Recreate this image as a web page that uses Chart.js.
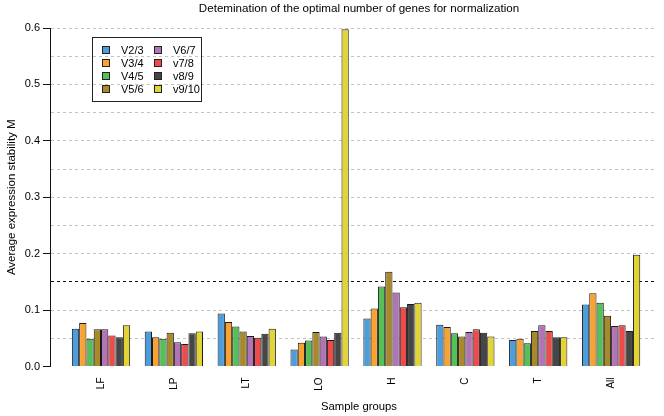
<!DOCTYPE html>
<html>
<head>
<meta charset="utf-8">
<script src="https://cdn.jsdelivr.net/npm/chart.js@4.4.1/dist/chart.umd.min.js"></script>
<style>
html,body{margin:0;padding:0;background:#fff;}
#wrap{position:relative;width:664px;height:416px;}
</style>
</head>
<body>
<div id="wrap"><canvas id="c" width="664" height="416"></canvas></div>
<script>
// ---- data ----
const groups = ['LF', 'LP', 'LT', 'LO', 'H', 'C', 'T', 'All'];
const seriesNames = ['V2/3', 'V3/4', 'V4/5', 'V5/6', 'V6/7', 'v7/8', 'v8/9', 'v9/10'];
const v23  = [0.067, 0.062, 0.094, 0.030, 0.085, 0.074, 0.047, 0.110];
const v34  = [0.077, 0.052, 0.079, 0.042, 0.103, 0.070, 0.049, 0.130];
const v45  = [0.049, 0.049, 0.071, 0.046, 0.142, 0.059, 0.041, 0.113];
const v56  = [0.066, 0.060, 0.062, 0.061, 0.168, 0.053, 0.063, 0.090];
const v67  = [0.066, 0.043, 0.054, 0.053, 0.131, 0.061, 0.073, 0.072];
const v78  = [0.055, 0.040, 0.051, 0.047, 0.105, 0.066, 0.063, 0.073];
const v89  = [0.052, 0.059, 0.058, 0.060, 0.111, 0.060, 0.052, 0.063];
const v910 = [0.073, 0.062, 0.067, 0.598, 0.113, 0.053, 0.052, 0.198];
const yGridValues = [0, 0.05, 0.1, 0.15, 0.2, 0.25, 0.3, 0.35, 0.4, 0.45, 0.5, 0.55, 0.6];
const yTickLabels = ['0.0', '0.1', '0.2', '0.3', '0.4', '0.5', '0.6'];
const threshold = 0.15;
const chartTitle = 'Detemination of the optimal number of genes for normalization';
const xTitle = 'Sample groups';
const yTitle = 'Average expression stability M';

const seriesValues = [v23, v34, v45, v56, v67, v78, v89, v910];
const colors = ['#4C9DDA', '#F8A232', '#57BF57', '#A98A2B', '#B274B5', '#EE4B4B', '#464646', '#E2D435'];
const FONT = '"Liberation Sans", Arial, Helvetica, sans-serif';

const datasets = seriesNames.map((name, s) => ({
  label: name,
  data: seriesValues[s].map((v, i) => ({x: i, y: v})),
  backgroundColor: colors[s],
  borderColor: '#1a1a1a',
  borderWidth: 1,
  categoryPercentage: 0.8,
  barPercentage: 1.0
}));

const isMajor = v => Math.abs(v * 10 - Math.round(v * 10)) < 1e-6;

const decor = {
  id: 'decor',
  afterDraw(chart) {
    const ctx = chart.ctx;
    ctx.save();
    ctx.fillStyle = '#000';
    ctx.textAlign = 'center';
    ctx.textBaseline = 'middle';
    // main title
    ctx.font = '11.6px ' + FONT;
    ctx.fillText(chartTitle, 359, 9);
    // x title
    ctx.font = '11.3px ' + FONT;
    ctx.fillText(xTitle, 359, 407);
    // legend box
    ctx.strokeStyle = '#222';
    ctx.lineWidth = 1;
    ctx.strokeRect(92.5, 37.5, 109, 64);
    const colX = [106, 158];
    const rowY = [50, 63, 76, 89];
    ctx.textAlign = 'left';
    ctx.font = '11px ' + FONT;
    seriesNames.forEach((name, i) => {
      const col = Math.floor(i / 4), row = i % 4;
      const cx = colX[col], cy = rowY[row];
      ctx.fillStyle = colors[i];
      ctx.fillRect(cx - 3.5, cy - 3.5, 7, 7);
      ctx.strokeStyle = '#222';
      ctx.strokeRect(cx - 3.5, cy - 3.5, 7, 7);
      ctx.fillStyle = '#000';
      ctx.fillText(name, cx + 15, cy + 0.5);
    });
    ctx.restore();
  }
};

new Chart(document.getElementById('c'), {
  type: 'bar',
  data: { datasets },
  options: {
    responsive: false,
    animation: false,
    devicePixelRatio: 1,
    layout: { padding: { top: 28, right: 7, left: 0, bottom: 0 } },
    plugins: { legend: { display: false }, title: { display: false }, tooltip: { enabled: false } },
    scales: {
      x: {
        type: 'linear',
        offset: false,
        min: -0.70,
        max: 7.63,
        afterBuildTicks: sc => { sc.ticks = groups.map((g, i) => ({ value: i })); },
        afterFit: sc => { sc.height = 49.5; },
        grid: { display: false, drawTicks: false, offset: false },
        border: { display: false },
        ticks: {
          autoSkip: false,
          minRotation: 90,
          maxRotation: 90,
          padding: 11,
          color: '#000',
          font: { family: FONT, size: 10 },
          callback: v => groups[Math.round(v)] ?? ''
        },
        title: { display: false }
      },
      y: {
        min: 0,
        max: 0.6,
        afterBuildTicks: sc => { sc.ticks = yGridValues.map(v => ({ value: v })); },
        afterFit: sc => { sc.width = 50; },
        grid: {
          drawTicks: true,
          tickLength: 7,
          tickWidth: 1,
          lineWidth: 1,
          color: c => {
            const v = c.tick ? c.tick.value : 0;
            if (Math.abs(v) < 1e-9) return 'rgba(0,0,0,0)';
            if (Math.abs(v - threshold) < 1e-9) return '#111';
            return '#c2c2c2';
          },
          tickColor: c => (c.tick && isMajor(c.tick.value)) ? '#111' : 'rgba(0,0,0,0)'
        },
        border: { display: true, color: '#111', width: 1, dash: [3, 3] },
        ticks: {
          autoSkip: false,
          padding: 3,
          color: '#000',
          font: { family: FONT, size: 11 },
          callback: v => isMajor(v) ? yTickLabels[Math.round(v * 10)] : ''
        },
        title: {
          display: true,
          text: yTitle,
          color: '#000',
          font: { family: FONT, size: 11.5 },
          padding: { top: 5, bottom: 0 }
        }
      }
    }
  },
  plugins: [decor]
});
</script>
</body>
</html>
